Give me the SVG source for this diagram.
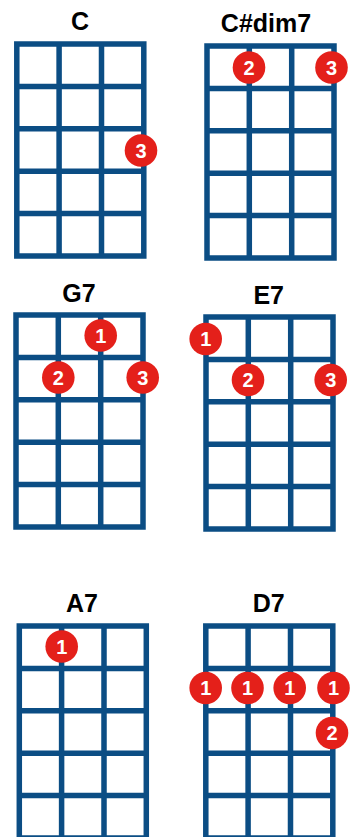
<svg xmlns="http://www.w3.org/2000/svg" xmlns:xlink="http://www.w3.org/1999/xlink" width="356" height="837" viewBox="0 0 356 837">
<style>
.grid{fill:#ffffff;stroke:#0b4d84;stroke-width:5.5;stroke-linecap:square}
.title{font-family:"Liberation Sans",Arial,sans-serif;font-weight:bold;font-size:25px;fill:#000;text-anchor:middle}
.dot{fill:#e4201a}
.num{font-family:"Liberation Sans",Arial,sans-serif;font-weight:bold;font-size:20px;fill:#fff;text-anchor:middle}
</style>
<defs>
<path id="grid" class="grid" d="M0 0H127V212H0Z M42.3 0V212 M84.7 0V212 M0 42.4H127 M0 84.8H127 M0 127.2H127 M0 169.6H127"/>
<g id="d1"><circle class="dot" r="16.3"/><text class="num" y="7.2">1</text></g>
<g id="d2"><circle class="dot" r="16.3"/><text class="num" y="7.2">2</text></g>
<g id="d3"><circle class="dot" r="16.3"/><text class="num" y="7.2">3</text></g>
</defs>
<rect width="356" height="837" fill="#ffffff"/>
<g id="chord-C">
<text class="title" x="80" y="29.5">C</text>
<use xlink:href="#grid" x="16.8" y="44"/>
<use xlink:href="#d3" x="141" y="150.5"/>
</g>
<g id="chord-Csharpdim7">
<text class="title" x="266" y="32">C#dim7</text>
<use xlink:href="#grid" x="207" y="46"/>
<use xlink:href="#d2" x="249" y="67.5"/>
<use xlink:href="#d3" x="331.5" y="67.5"/>
</g>
<g id="chord-G7">
<text class="title" x="79" y="301.5">G7</text>
<use xlink:href="#grid" x="16" y="315"/>
<use xlink:href="#d1" x="100.7" y="335.5"/>
<use xlink:href="#d2" x="58.3" y="377.5"/>
<use xlink:href="#d3" x="142.7" y="377.5"/>
</g>
<g id="chord-E7">
<text class="title" x="268.7" y="303.5">E7</text>
<use xlink:href="#grid" x="206" y="317"/>
<use xlink:href="#d1" x="205.7" y="339"/>
<use xlink:href="#d2" x="248" y="380"/>
<use xlink:href="#d3" x="330.7" y="380"/>
</g>
<g id="chord-A7">
<text class="title" x="82" y="611.7">A7</text>
<use xlink:href="#grid" x="19.3" y="626"/>
<use xlink:href="#d1" x="61.7" y="646.5"/>
</g>
<g id="chord-D7">
<text class="title" x="268.8" y="611.7">D7</text>
<use xlink:href="#grid" x="205.8" y="626"/>
<use xlink:href="#d1" x="205.7" y="688"/>
<use xlink:href="#d1" x="247.5" y="688"/>
<use xlink:href="#d1" x="289.7" y="688"/>
<use xlink:href="#d1" x="333.5" y="688"/>
<use xlink:href="#d2" x="332" y="733"/>
</g>
<g id="connectors"></g>
</svg>
